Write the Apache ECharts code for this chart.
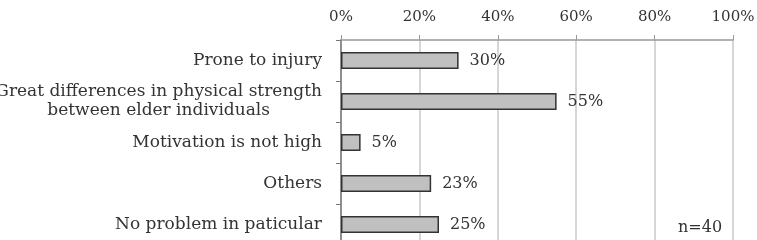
<!DOCTYPE html>
<html>
<head>
<meta charset="utf-8">
<script src="https://cdn.jsdelivr.net/npm/echarts@6/dist/echarts.min.js"></script>
<style>
html, body { margin: 0; padding: 0; background: #fff; }
#chart { width: 757px; height: 240px; }
</style>
</head>
<body>
<div id="chart"></div>
<script>
var categories = [
    'Prone to injury',
    'Great differences in physical strength\nbetween elder individuals',
    'Motivation is not high',
    'Others',
    'No problem in paticular'
];
var values = [30, 55, 5, 23, 25];
var note = 'n=40';

var font = 'DejaVu Serif';
var chart = echarts.init(document.getElementById('chart'));

var option = {
    animation: false,
    grid: { left: 341, width: 392, top: 40, height: 205, outerBoundsMode: 'none', containLabel: false },
    xAxis: {
        type: 'value',
        position: 'top',
        min: 0, max: 100, interval: 20,
        axisLine: { show: true, lineStyle: { color: '#999', width: 1.5 } },
        axisTick: { show: true, length: 5, lineStyle: { color: '#999' } },
        splitLine: { show: true, lineStyle: { color: '#c8c8c8', width: 1.5 } },
        axisLabel: {
            margin: 15,
            color: '#333',
            fontFamily: font,
            fontSize: 15,
            formatter: function (v) { return v + '%'; }
        }
    },
    yAxis: {
        type: 'category',
        inverse: true,
        data: categories,
        axisLine: { show: true, lineStyle: { color: '#777', width: 1.5 } },
        axisTick: { show: true, length: 5, lineStyle: { color: '#777' } },
        axisLabel: {
            margin: 19,
            color: '#333',
            fontFamily: font,
            fontSize: 17,
            lineHeight: 19,
            formatter: function (v) {
                return v.split('\n').map(function (s) { return '{c|' + s + '}'; }).join('\n');
            },
            rich: { c: { align: 'center', fontFamily: font, fontSize: 17, lineHeight: 19, color: '#333' } }
        }
    },
    series: [{
        type: 'bar',
        data: values,
        barWidth: 17,
        itemStyle: { color: '#c0c0c0', borderColor: '#333', borderWidth: 1.5 },
        label: {
            show: true,
            position: 'right',
            distance: 11,
            color: '#333',
            fontFamily: font,
            fontSize: 16,
            formatter: '{c}%'
        }
    }],
    graphic: [{
        type: 'text',
        left: 678,
        top: 220,
        style: { text: note, fontFamily: font, fontSize: 16, fill: '#333' }
    }]
};
chart.setOption(option);
</script>
</body>
</html>
